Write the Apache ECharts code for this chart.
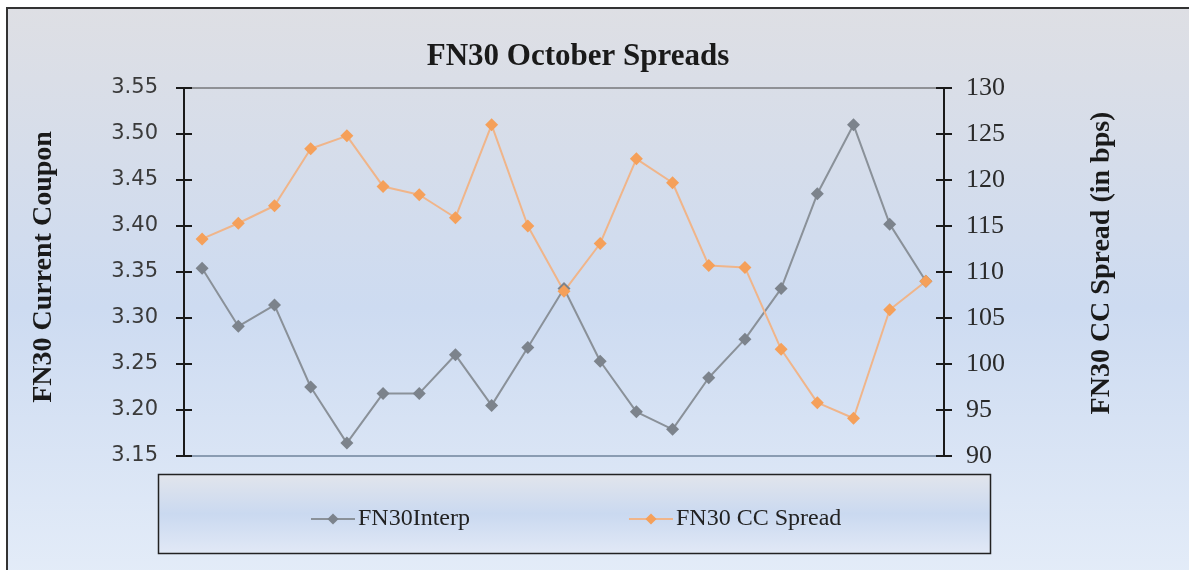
<!DOCTYPE html>
<html><head><meta charset="utf-8">
<script src="https://cdn.jsdelivr.net/npm/echarts@6/dist/echarts.min.js"></script>
<style>html,body{margin:0;padding:0;background:#fff}#c{width:1189px;height:570px}</style>
</head><body><div id="c"></div>
<script>
var categories = ['1','2','3','4','5','6','7','8','9','10','11','12','13','14','15','16','17','18','19','20','21'];
var interpValues = [3.354,3.291,3.314,3.225,3.164,3.218,3.218,3.260,3.205,3.268,3.332,3.253,3.198,3.179,3.235,3.277,3.332,3.435,3.510,3.402,3.340];
var spreadValues = [113.6,115.3,117.2,123.4,124.8,119.3,118.4,115.9,126.0,115.0,107.9,113.1,122.3,119.7,110.7,110.5,101.6,95.8,94.1,105.9,109.0];
var leftTicks = [3.15,3.20,3.25,3.30,3.35,3.40,3.45,3.50,3.55];
var rightTicks = [90,95,100,105,110,115,120,125,130];
var seriesNames = ['FN30Interp','FN30 CC Spread'];

var chart = echarts.init(document.getElementById('c'), null, {renderer:'canvas'});
var bg = new echarts.graphic.LinearGradient(0,0,0,1,[
  {offset:0,color:'#dedfe4'},{offset:0.5,color:'#cddbf1'},{offset:1,color:'#e6eef9'}]);
var legBg = new echarts.graphic.LinearGradient(0,0,0,1,[
  {offset:0,color:'#e2e5ec'},{offset:0.5,color:'#cad9f0'},{offset:1,color:'#e2e9f6'}]);
var serif = '"Liberation Serif","Times New Roman",serif';
var axisBase = {
  type:'value', splitLine:{show:false},
  axisLine:{show:true,lineStyle:{color:'#1a1a1a',width:2}},
  axisTick:{show:true,length:8,lineStyle:{color:'#1a1a1a',width:2}}
};
chart.setOption({
  animation:false,
  graphic:[
    {type:'rect',z:-10,shape:{x:7,y:8,width:1200,height:600},style:{fill:bg,stroke:'#333',lineWidth:2}},
    {type:'rect',z:-5,shape:{x:158.5,y:474.5,width:832,height:79},style:{fill:legBg,stroke:'#222',lineWidth:1.5}}
  ],
  title:{text:'FN30 October Spreads',left:573,textAlign:'center',top:36,
    textStyle:{fontFamily:serif,fontWeight:'bold',fontSize:31,color:'#1a1a1a'}},
  legend:{data:seriesNames,left:305,top:502,itemGap:158,itemWidth:44,itemHeight:14,
    textStyle:{fontFamily:serif,fontSize:24,color:'#222',padding:[0,0,0,-2]}},
  grid:{left:184,right:245,top:88,bottom:114,show:true,borderColor:'#444',borderWidth:1,backgroundColor:'transparent'},
  xAxis:{type:'category',data:categories,boundaryGap:true,
    axisLine:{show:true,lineStyle:{color:'#8a9cb2',width:2}},
    axisTick:{show:false},axisLabel:{show:false}},
  yAxis:[
    Object.assign({},axisBase,{position:'left',min:leftTicks[0],max:leftTicks[leftTicks.length-1],interval:0.05,
      name:'FN30 Current Coupon',nameLocation:'middle',nameGap:126,
      nameTextStyle:{fontFamily:serif,fontWeight:'bold',fontSize:28,color:'#1a1a1a',padding:[0,0,0,10]},
      axisLabel:{margin:26,fontFamily:'"DejaVu Sans",Verdana,sans-serif',fontSize:21,color:'#3a3a3a',
        formatter:function(v){return v.toFixed(2);}}}),
    Object.assign({},axisBase,{position:'right',min:rightTicks[0],max:rightTicks[rightTicks.length-1],interval:5,
      name:'FN30 CC Spread (in bps)',nameLocation:'middle',nameGap:144,
      nameTextStyle:{fontFamily:serif,fontWeight:'bold',fontSize:28,color:'#1a1a1a',padding:[0,0,0,18]},
      axisLabel:{margin:22,fontFamily:serif,fontSize:26,color:'#2a2a2a'}}),
    {type:'value',position:'left',min:leftTicks[0],max:leftTicks[leftTicks.length-1],interval:0.05,
      splitLine:{show:false},axisLine:{show:false},axisLabel:{show:false},
      axisTick:{show:true,inside:true,length:8,lineStyle:{color:'#1a1a1a',width:2}}},
    {type:'value',position:'right',min:rightTicks[0],max:rightTicks[rightTicks.length-1],interval:5,
      splitLine:{show:false},axisLine:{show:false},axisLabel:{show:false},
      axisTick:{show:true,inside:true,length:8,lineStyle:{color:'#1a1a1a',width:2}}}
  ],
  series:[
    {name:seriesNames[0],type:'line',yAxisIndex:0,data:interpValues,symbol:'diamond',symbolSize:13,
      lineStyle:{color:'#8a9199',width:2},itemStyle:{color:'#7c838c'}},
    {name:seriesNames[1],type:'line',yAxisIndex:1,data:spreadValues,symbol:'diamond',symbolSize:13,
      lineStyle:{color:'#f0b58a',width:2},itemStyle:{color:'#f5a05a'}}
  ]
});
</script></body></html>
